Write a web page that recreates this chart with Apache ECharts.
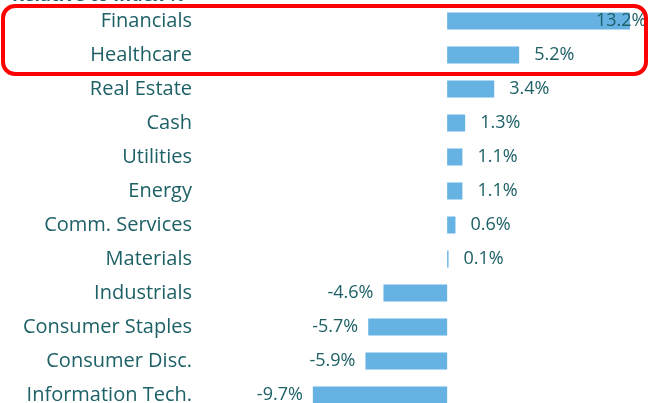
<!DOCTYPE html>
<html><head><meta charset="utf-8">
<script src="https://cdn.jsdelivr.net/npm/echarts@6/dist/echarts.min.js"></script>
<style>html,body{margin:0;padding:0;background:#fff}#c{width:650px;height:403px}</style>
</head><body><div id="c"></div>
<script>
const titleText = 'Relative to Index %';
const categories = ['Financials','Healthcare','Real Estate','Cash','Utilities','Energy','Comm. Services','Materials','Industrials','Consumer Staples','Consumer Disc.','Information Tech.'];
const values = [13.2, 5.2, 3.4, 1.3, 1.1, 1.1, 0.6, 0.1, -4.6, -5.7, -5.9, -9.7];

const teal = '#1d6066';
const font = 'Open Sans';
const chart = echarts.init(document.getElementById('c'));
const data = values.map((v, i) => {
  const item = { value: v, label: v < 0 ? { position: 'left', distance: 10 } : { position: 'right', distance: 15 } };
  if (i === 0) item.label = { position: 'right', distance: 15, offset: [-49, 0] };
  return item;
});
chart.setOption({
  animation: false,
  grid: { left: 281, right: 9, top: 4, height: 408, containLabel: false, outerBoundsMode: 'none' },
  xAxis: { type: 'value', min: -12, max: 14, show: false },
  yAxis: {
    type: 'category', data: categories, inverse: true,
    axisLine: { show: false }, axisTick: { show: false }, splitLine: { show: false },
    axisLabel: { color: teal, fontSize: 20, fontFamily: font, margin: 89 }
  },
  series: [{
    type: 'bar', data: data, barWidth: 17,
    itemStyle: { color: '#65b2e3' },
    label: { show: true, color: teal, fontSize: 18, fontFamily: font,
      formatter: p => p.value.toFixed(1) + '%' }
  }],
  graphic: [
    { type: 'text', x: 12, y: -13, style: { text: titleText, fill: teal, font: 'bold 18px ' + font, verticalAlign: 'top' } },
    { type: 'rect', shape: { x: 3, y: 6, width: 643, height: 68, r: 12 },
      style: { fill: 'none', stroke: '#ff0000', lineWidth: 4 }, z: 100 }
  ]
});
</script></body></html>
